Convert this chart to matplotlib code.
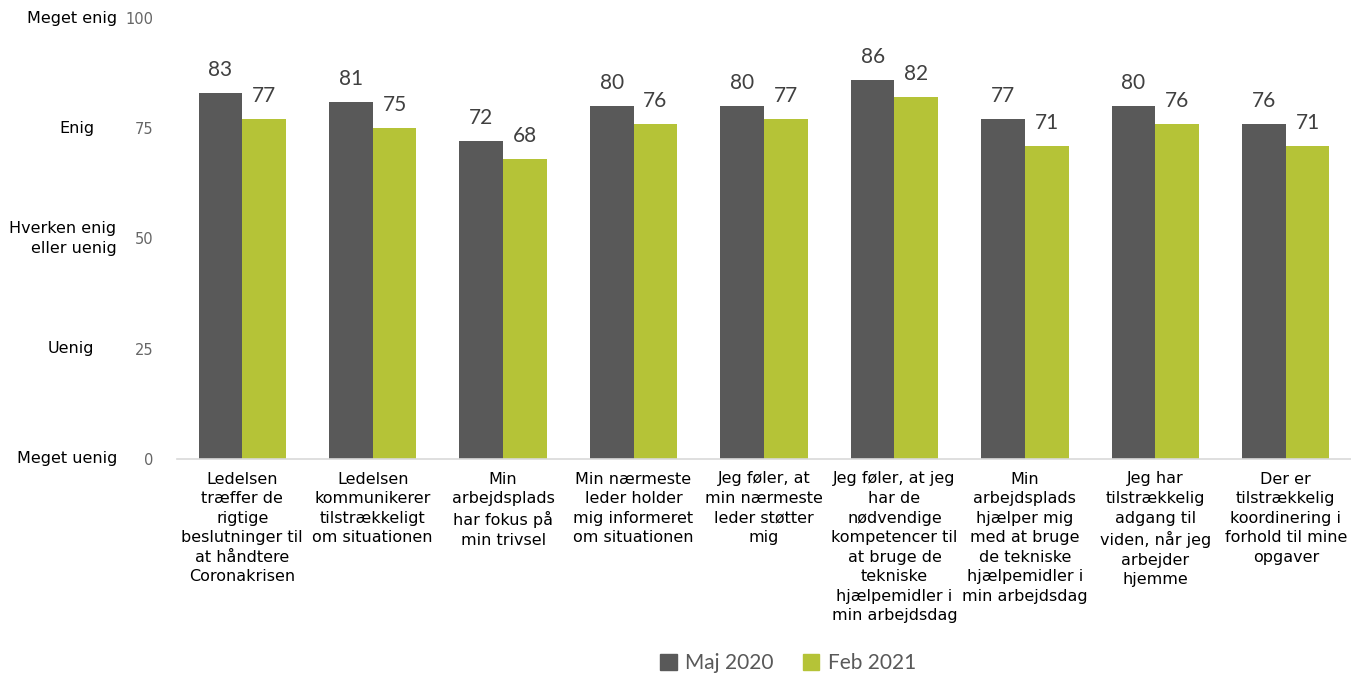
import numpy as np
import matplotlib.pyplot as plt
from matplotlib.patches import Patch

plt.rcParams["font.family"] = ["DejaVu Sans"]

categories = [
    "Ledelsen\ntræffer de\nrigtige\nbeslutninger til\nat håndtere\nCoronakrisen",
    "Ledelsen\nkommunikerer\ntilstrækkeligt\nom situationen",
    "Min\narbejdsplads\nhar fokus på\nmin trivsel",
    "Min nærmeste\nleder holder\nmig informeret\nom situationen",
    "Jeg føler, at\nmin nærmeste\nleder støtter\nmig",
    "Jeg føler, at jeg\nhar de\nnødvendige\nkompetencer til\nat bruge de\ntekniske\nhjælpemidler i\nmin arbejdsdag",
    "Min\narbejdsplads\nhjælper mig\nmed at bruge\nde tekniske\nhjælpemidler i\nmin arbejdsdag",
    "Jeg har\ntilstrækkelig\nadgang til\nviden, når jeg\narbejder\nhjemme",
    "Der er\ntilstrækkelig\nkoordinering i\nforhold til mine\nopgaver",
]
maj_2020 = [83, 81, 72, 80, 80, 86, 77, 80, 76]
feb_2021 = [77, 75, 68, 76, 77, 82, 71, 76, 71]

y_ticks = [0, 25, 50, 75, 100]
scale_labels = ["Meget uenig", "Uenig", "Hverken enig\neller uenig", "Enig", "Meget enig"]

c_maj = "#595959"
c_feb = "#b5c337"
W, H = 1351, 673

fig = plt.figure(figsize=(W / 100, H / 100), dpi=100)
ax = fig.add_axes([177 / W, 1 - 459 / H, 1 - 177 / W, (459 - 18) / H])

x = np.arange(len(categories))
bw = 0.335
b1 = ax.bar(x - bw / 2, maj_2020, bw, color=c_maj)
b2 = ax.bar(x + bw / 2, feb_2021, bw, color=c_feb)

for bars, vals in ((b1, maj_2020), (b2, feb_2021)):
    for rect, v in zip(bars, vals):
        ax.annotate(str(v), (rect.get_x() + rect.get_width() / 2, v),
                    xytext=(0, 9.5), textcoords="offset points",
                    ha="center", va="bottom", fontsize=15,
                    family="Lato", color="#404040")

ax.set_xlim(-0.5, len(categories) - 0.5)
ax.set_ylim(0, 100)
ax.set_yticks(y_ticks)
ax.set_yticklabels([str(t) for t in y_ticks], color="#666666", fontsize=10.5)
ax.tick_params(axis="y", length=0, pad=17)
ax.set_xticks(x)
ax.set_xticklabels(categories, fontsize=11.5, linespacing=1.38, va="top")
ax.tick_params(axis="x", length=0, pad=9)

for side in ("top", "right", "left"):
    ax.spines[side].set_visible(False)
ax.spines["bottom"].set_color("#d9d9d9")
ax.spines["bottom"].set_linewidth(1.2)

# verbal scale to the left of the numeric ticks
label_x = [67, 71, 63, 77, 72]
for t, lab, px in zip(y_ticks, scale_labels, label_x):
    fig.text(px / W, ax.transData.transform((0, t))[1] / H, lab,
             ha="center", va="center", fontsize=11.5, linespacing=1.35,
             multialignment="right")

handles = [Patch(color=c_maj, label="Maj 2020"), Patch(color=c_feb, label="Feb 2021")]
fig.legend(handles=handles, loc="center", bbox_to_anchor=(788 / W, 1 - 663 / H),
           ncol=2, frameon=False, handlelength=0.8, handleheight=0.8,
           handletextpad=0.4, columnspacing=1.4,
           prop={"family": "Lato", "size": 15}, labelcolor="#595959")

fig.savefig("out.png", dpi=100)
